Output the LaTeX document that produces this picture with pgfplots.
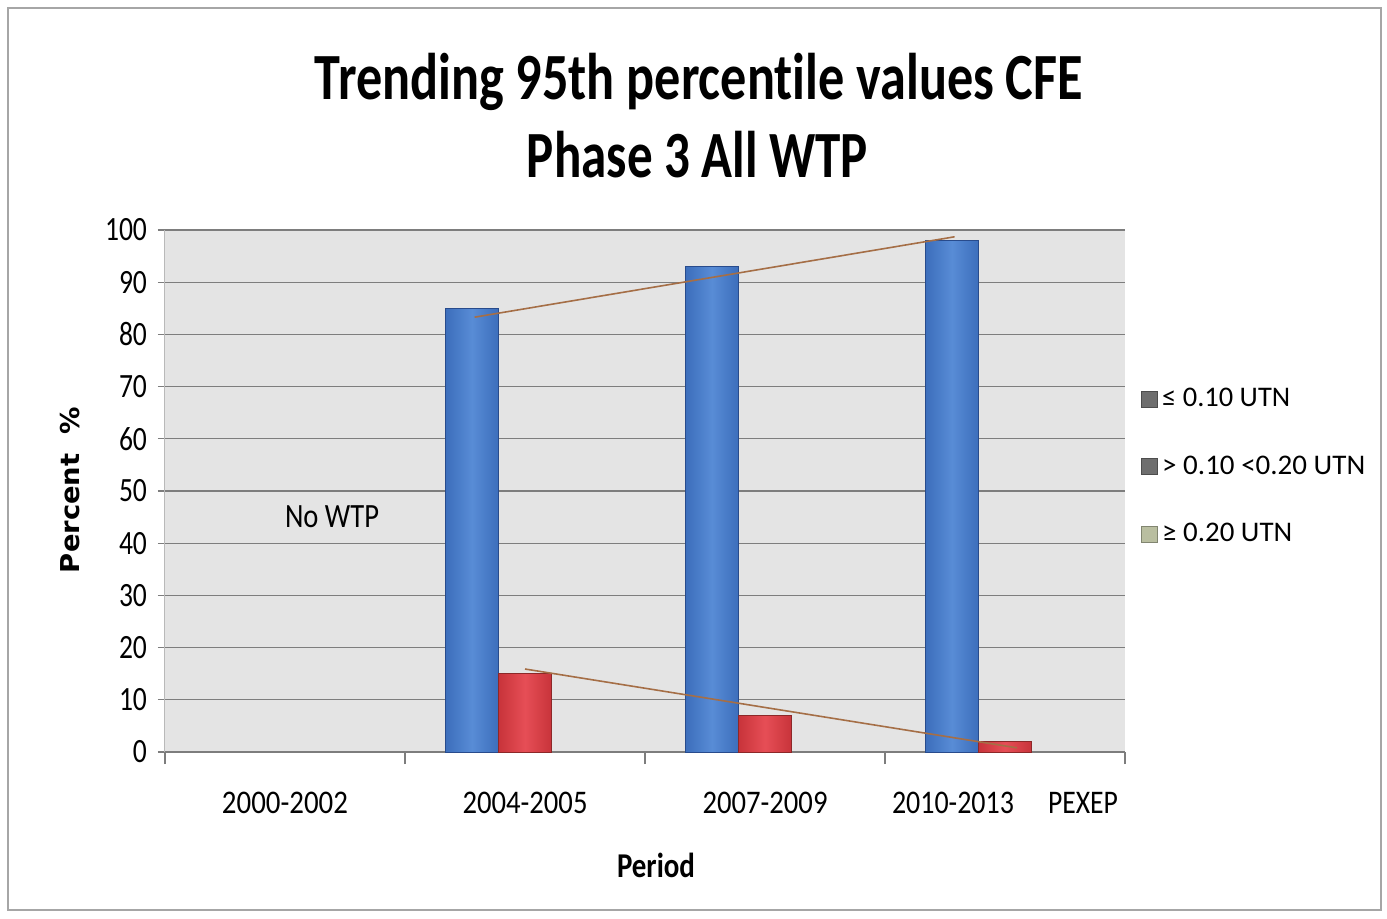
\documentclass[border=0pt]{standalone}
\usepackage{fontspec}
\setmainfont{Carlito}[Ligatures=NoCommon]
\newfontfamily\dejavu{DejaVu Sans}
\usepackage{graphicx}
\usepackage{pgfplots}
\pgfplotsset{compat=1.18}
\pgfplotsset{sqlegend/.style={legend image code/.code={\draw[##1] (0pt,-4pt) rectangle (8pt,4pt);}}}
\definecolor{gridc}{RGB}{125,125,125}
\definecolor{bgc}{RGB}{228,228,228}
\definecolor{blueL}{RGB}{88,140,214}
\definecolor{blueD}{RGB}{60,110,188}
\definecolor{blueE}{RGB}{40,75,140}
\definecolor{redL}{RGB}{230,78,86}
\definecolor{redD}{RGB}{200,52,58}
\definecolor{redE}{RGB}{140,40,40}
\definecolor{trend}{RGB}{165,110,70}
\definecolor{legdark}{RGB}{110,110,110}
\definecolor{leglight}{RGB}{185,190,160}
\pgfplotsset{bluebar/.style={ybar, bar width=26.5pt, bar shift=-26.5pt, draw=blueE, line width=0.5pt,
  left color=blueD, right color=blueD, middle color=blueL, forget plot},
  redbar/.style={ybar, bar width=26.5pt, bar shift=0pt, draw=redE, line width=0.5pt,
  left color=redD, right color=redD, middle color=redL, forget plot}}
\begin{document}
\begin{tikzpicture}
\useasboundingbox (-82.5pt,-83pt) rectangle (611pt,376pt);
\fill[white] (-82.5pt,-83pt) rectangle (611pt,376pt);
\draw[gray!70, line width=0.75pt] (-78.5pt,-79pt) rectangle (608pt,372pt);
\begin{axis}[
  scale only axis, width=480pt, height=261pt,
  at={(0pt,0pt)}, anchor=south west,
  xmin=-0.5, xmax=3.5, ymin=0, ymax=100,
  axis x line*=bottom, axis y line*=left,
  x axis line style={gridc, line width=0.6pt, -},
  y axis line style={gray!55, line width=0.5pt, -},
  ytick={0,10,...,100},
  ymajorgrids, grid style={gridc, line width=0.6pt},
  major tick length=3.5pt, tick align=outside,
  ytick style={gridc, line width=0.6pt},
  xtick={0,1,2,3},
  xticklabels={{\resizebox{63pt}{\height}{2000-2002}},
               {\resizebox{62.5pt}{\height}{2004-2005}},
               {\resizebox{62.5pt}{\height}{2007-2009}},
               {\resizebox{61pt}{\height}{2010-2013}\hspace{17pt}\resizebox{35pt}{\height}{PEXEP}}},
  xtick style={draw=none},
  extra x ticks={-0.5,0.5,1.5,2.5,3.5},
  extra x tick labels={},
  extra x tick style={major tick length=6pt, xtick style={draw=gridc, line width=0.6pt}, grid=none},
  axis background/.style={fill=bgc},
  /pgf/number format/assume math mode=true,
  yticklabel={\scalebox{0.81}[1]{\pgfmathprintnumber{\tick}}},
  yticklabel style={font=\fontsize{17}{20}\selectfont, xshift=-2pt},
  xticklabel style={font=\fontsize{16.5}{20}\selectfont, yshift=-13pt},
  legend style={at={(1.0167,0.705)}, anchor=north west, draw=none, fill=none,
    inner sep=0pt, row sep=19pt, font=\fontsize{14.2}{17}\selectfont,
    nodes={inner sep=2pt}},
  legend cell align=left,
]
% <= 0.10 UTN (blue), one bar per period
\addplot[bluebar] coordinates {(1,85)};
\addplot[bluebar] coordinates {(2,93)};
\addplot[bluebar] coordinates {(3,98)};
% > 0.10 < 0.20 UTN (red)
\addplot[redbar] coordinates {(1,15)};
\addplot[redbar] coordinates {(2,7)};
\addplot[redbar] coordinates {(3,2)};
% trend lines
\addplot[trend, line width=0.8pt, forget plot] coordinates {(0.79,83.3) (2.79,98.7)};
\addplot[trend, line width=0.8pt, forget plot] coordinates {(1.0,15.9) (3.05,0.8)};
\addlegendimage{sqlegend, fill=legdark, draw=legdark!70!black}
\addlegendentry{\resizebox{64pt}{\height}{≤ 0.10 UTN}}
\addlegendimage{sqlegend, fill=legdark, draw=legdark!70!black}
\addlegendentry{\resizebox{101.5pt}{\height}{> 0.10 <0.20 UTN}}
\addlegendimage{sqlegend, fill=leglight, draw=leglight!70!black}
\addlegendentry{\resizebox{65pt}{\height}{≥ 0.20 UTN}}
\node[anchor=base, font=\fontsize{17}{20}\selectfont] at (axis cs:0.196,43.1) {\resizebox{47pt}{\height}{No WTP}};
\end{axis}
\node[anchor=base, font=\fontsize{33}{40}\selectfont\bfseries] at (267pt,326.5pt) {\resizebox{384pt}{\height}{Trending 95th percentile values CFE}};
\node[anchor=base, font=\fontsize{33}{40}\selectfont\bfseries] at (266.25pt,287.5pt) {\resizebox{170.5pt}{\height}{Phase 3 All WTP}};
\node[rotate=90, font=\dejavu\bfseries\fontsize{13}{15}\selectfont] at (-47.5pt,131pt) {\resizebox{83pt}{\height}{Percent~~\%}};
\node[anchor=base, font=\bfseries\fontsize{17.4}{20}\selectfont] at (245.5pt,-62.5pt) {\resizebox{39pt}{\height}{Period}};
\end{tikzpicture}
\end{document}
